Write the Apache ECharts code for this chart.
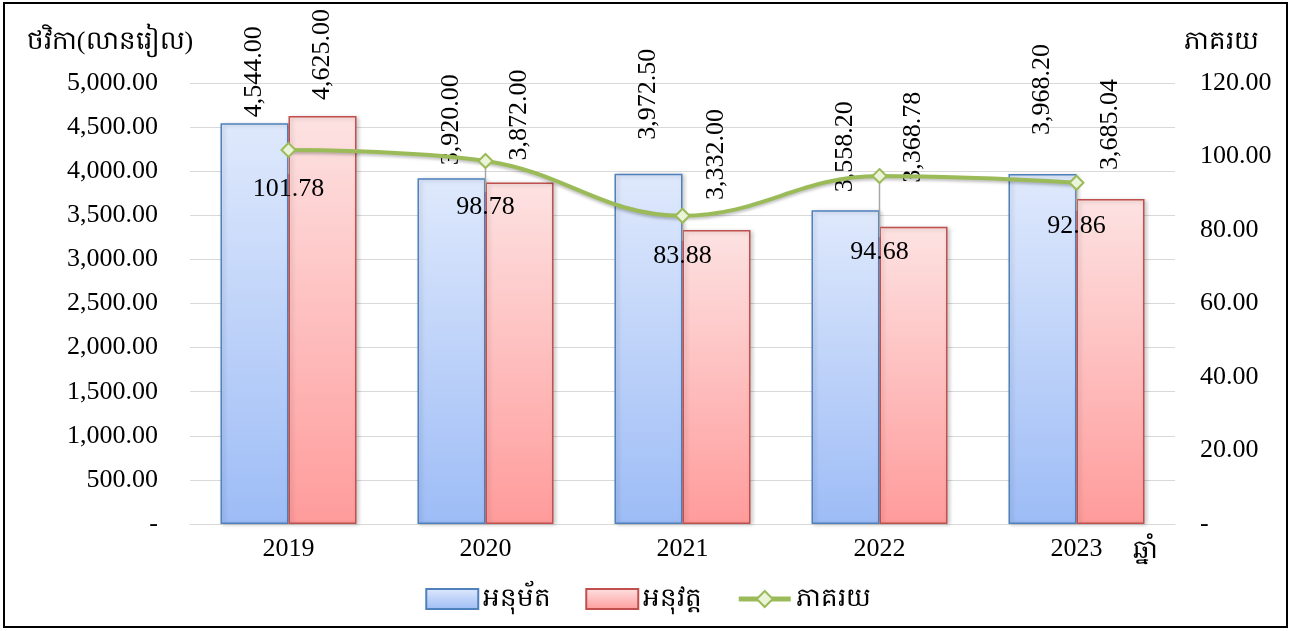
<!DOCTYPE html>
<html><head><meta charset="utf-8">
<script src="https://cdn.jsdelivr.net/npm/echarts@6/dist/echarts.min.js"></script>
<style>html,body{margin:0;padding:0;background:#fff}#c{width:1296px;height:631px}</style>
</head><body><div id="c"></div>
<script>
const categories = ['2019','2020','2021','2022','2023'];
const approved = [4544.00, 3920.00, 3972.50, 3558.20, 3968.20];
const executed = [4625.00, 3872.00, 3332.00, 3368.78, 3685.04];
const percent = [101.78, 98.78, 83.88, 94.68, 92.86];
const seriesNames = ['អនុម័ត', 'អនុវត្ត', 'ភាគរយ'];
const leftTitle = 'ថវិកា(លានរៀល)';
const rightTitle = 'ភាគរយ';
const xTitle = 'ឆ្នាំ';

const FONT = '"Liberation Serif", "Times New Roman", serif';
const fmt = v => v === 0 ? '-' : Number(v).toLocaleString('en-US', {minimumFractionDigits: 2, maximumFractionDigits: 2});
// label placement offsets (pixels), style only
const lineLabelDy = [18, 25, 19, 55, 22];
const blueLabelGap = [6, 13, 34, 18, 39];
const redLabelGap = [16, 22, 30, 44, 29];

const chart = echarts.init(document.getElementById('c'));
const barLabel = {show: true, position: 'top', rotate: 90, align: 'left', verticalAlign: 'middle', distance: 8,
  fontSize: 26, color: '#000', formatter: p => fmt(p.value)};

chart.setOption({
  animation: false,
  textStyle: {fontFamily: FONT},
  grid: {left: 190, right: 121, top: 83, bottom: 107},
  graphic: [
    {type: 'rect', shape: {x: 4, y: 3, width: 1283, height: 624}, style: {fill: 'none', stroke: '#000', lineWidth: 2}, silent: true},
    {type: 'text', x: 110, y: 42, style: {text: leftTitle, fontSize: 26, fontFamily: FONT, fill: '#000', align: 'center', verticalAlign: 'middle'}},
    {type: 'text', x: 1221, y: 42, style: {text: rightTitle, fontSize: 26, fontFamily: FONT, fill: '#000', align: 'center', verticalAlign: 'middle'}},
    {type: 'text', x: 1145, y: 551, style: {text: xTitle, fontSize: 26, fontFamily: FONT, fill: '#000', align: 'center', verticalAlign: 'middle'}}
  ],
  legend: {
    bottom: 14, left: 'center', itemWidth: 52, itemHeight: 20, itemGap: 34,
    textStyle: {fontSize: 26, color: '#000', fontFamily: FONT},
    data: [
      {name: seriesNames[0], icon: 'rect'},
      {name: seriesNames[1], icon: 'rect'},
      {name: seriesNames[2], lineStyle: {width: 5, shadowBlur: 0}}
    ]
  },
  xAxis: {
    type: 'category', data: categories,
    axisLine: {lineStyle: {color: '#d9d9d9'}},
    axisTick: {show: false},
    axisLabel: {fontSize: 26, color: '#000', margin: 12}
  },
  yAxis: [{
    type: 'value', min: 0, max: 5000, interval: 500,
    axisLine: {show: false}, axisTick: {show: false},
    axisLabel: {fontSize: 26, color: '#000', margin: 32, formatter: fmt},
    splitLine: {lineStyle: {color: '#d9d9d9'}}
  }, {
    type: 'value', min: 0, max: 120, interval: 20,
    axisLine: {show: false}, axisTick: {show: false},
    axisLabel: {fontSize: 26, color: '#000', margin: 25, formatter: fmt},
    splitLine: {show: false}
  }],
  series: [{
    name: seriesNames[0], type: 'bar', barWidth: 68, barGap: '0%',
    data: approved.map((v, i) => ({value: v, label: {distance: blueLabelGap[i]}})),
    itemStyle: {
      color: new echarts.graphic.LinearGradient(0, 0, 0, 1, [{offset: 0, color: '#dfe9fc'}, {offset: 1, color: '#9dbcf6'}]),
      borderColor: '#4f81bd', borderWidth: 1.5,
      shadowColor: 'rgba(0,0,0,0.2)', shadowBlur: 4, shadowOffsetX: 2, shadowOffsetY: 1
    },
    label: barLabel
  }, {
    name: seriesNames[1], type: 'bar', barWidth: 68,
    data: executed.map((v, i) => ({value: v, label: {distance: redLabelGap[i]}})),
    itemStyle: {
      color: new echarts.graphic.LinearGradient(0, 0, 0, 1, [{offset: 0, color: '#fde2e2'}, {offset: 1, color: '#ff9b9b'}]),
      borderColor: '#c0504d', borderWidth: 1.5,
      shadowColor: 'rgba(0,0,0,0.2)', shadowBlur: 4, shadowOffsetX: 2, shadowOffsetY: 1
    },
    label: barLabel
  }, {
    name: 'leader', type: 'custom', yAxisIndex: 1, z: 4, silent: true,
    data: percent.map((v, i) => [i, v]),
    encode: {x: 0, y: 1},
    renderItem: (params, api) => {
      const pt = api.coord([api.value(0), api.value(1)]);
      const len = lineLabelDy[params.dataIndex] + 6;
      return {type: 'line', shape: {x1: pt[0], y1: pt[1], x2: pt[0], y2: pt[1] + len},
        style: {stroke: '#a6a6a6', lineWidth: 1.5}};
    }
  }, {
    name: seriesNames[2], type: 'line', yAxisIndex: 1, data: percent, smooth: 0.4, z: 5,
    symbol: 'diamond', symbolSize: 14,
    lineStyle: {color: '#9bbb59', width: 4, shadowColor: 'rgba(0,0,0,0.25)', shadowBlur: 3, shadowOffsetY: 2},
    itemStyle: {color: '#ebf3d8', borderColor: '#9bbb59', borderWidth: 2},
    label: {show: true, position: 'bottom', distance: 0, fontSize: 26, color: '#000', formatter: p => p.value.toFixed(2)},
    labelLayout: p => ({dy: lineLabelDy[p.dataIndex]})
  }]
});
</script></body></html>
